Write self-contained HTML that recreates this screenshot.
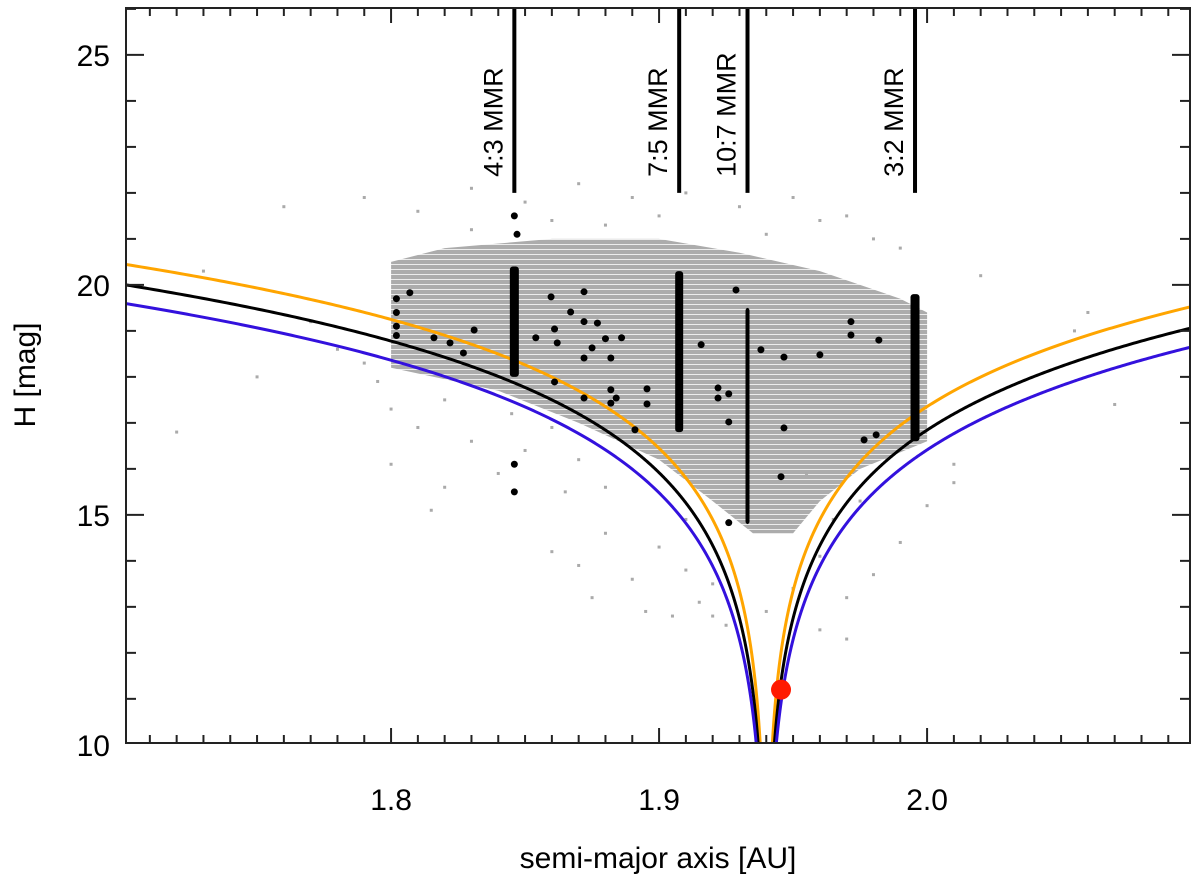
<!DOCTYPE html>
<html><head><meta charset="utf-8"><style>
html,body{margin:0;padding:0;background:#fff;}
svg{display:block;font-family:"Liberation Sans",sans-serif;}
</style></head><body>
<svg id="chart" width="1200" height="883" viewBox="0 0 1200 883" xmlns="http://www.w3.org/2000/svg">
<defs>
<pattern id="stripes" width="8" height="5" patternUnits="userSpaceOnUse">
<rect width="8" height="5" fill="#acacac"/><rect y="4" width="8" height="1" fill="#ececec"/>
</pattern>
</defs>
<g id="plot"></g>
</svg>
<script>
const xTicks=[1.8,1.9,2.0];
const xTickLabels=["1.8","1.9","2.0"];
const yTicks=[10,15,20,25];
const yTickLabels=["10","15","20","25"];
const mmrA=[1.846,1.9075,1.933,1.9955];
const mmrLabels=["4:3 MMR","7:5 MMR","10:7 MMR","3:2 MMR"];
const curveA0=[1.940,1.940,1.940];
const curveK=[5.15,5.26,5.3];
const curveW=[0.00224,0.003,0.0037];
const curveColors=["#ffa500","#000000","#3311dd"];
const curveNames=["orange-v-curve","black-v-curve","blue-v-curve"];
const denseA=[1.80,1.82,1.86,1.90,1.93,1.96,1.99,2.0,2.0,1.975,1.96,1.95,1.935,1.92,1.90,1.87,1.84,1.80];
const denseH=[20.5,20.8,21.0,21.0,20.7,20.3,19.7,19.4,16.6,16.0,15.3,14.6,14.6,15.3,16.2,17.0,17.7,18.2];
const grayA=[1.72,1.75,1.73,1.76,1.79,1.77,1.78,1.81,1.83,1.85,1.87,1.89,1.91,1.93,1.95,1.97,1.83,1.86,1.88,1.90,1.94,1.96,1.98,1.795,1.80,1.81,1.82,1.83,1.845,1.85,1.86,1.87,1.815,1.84,1.865,1.88,1.86,1.87,1.88,1.89,1.90,1.91,1.92,1.875,1.895,1.905,1.915,1.925,1.95,1.96,1.97,1.98,1.99,2.0,2.01,1.955,1.965,1.975,1.985,1.96,1.97,2.06,2.055,2.07,2.01,2.02,1.99,1.80,1.82,1.79,1.92,1.94,1.91];
const grayH=[16.8,18.0,20.3,21.7,21.9,19.2,18.6,21.6,22.1,21.8,22.2,21.9,22.0,21.7,21.9,21.5,21.2,21.4,21.3,21.5,21.1,21.4,21.0,17.9,17.3,16.9,17.5,16.6,17.2,16.4,16.9,16.2,15.1,15.9,15.5,15.6,14.2,13.9,14.6,13.6,14.3,13.8,13.5,13.2,12.9,12.8,13.1,12.6,13.4,14.1,13.2,13.7,14.4,15.2,15.7,15.9,14.9,15.3,16.2,12.5,12.3,19.4,19.0,17.4,16.1,20.2,20.8,16.1,15.6,18.3,12.8,12.9,14.9];
const blackA=[1.8597,1.872,1.867,1.872,1.861,1.854,1.862,1.877,1.875,1.872,1.880,1.886,1.882,1.861,1.872,1.882,1.882,1.891,1.807,1.831,1.816,1.822,1.827,1.884,1.8955,1.8955,1.922,1.922,1.926,1.926,1.9466,1.9455,1.926,1.9765,1.9157,1.9287,1.938,1.9466,1.960,1.9716,1.9716,1.982,1.981,1.846,1.847,1.846,1.846,1.802,1.802,1.802,1.802];
const blackH=[19.74,19.85,19.41,19.20,19.04,18.85,18.74,19.17,18.63,18.41,18.83,18.85,18.41,17.89,17.54,17.72,17.43,16.85,19.83,19.02,18.85,18.74,18.52,17.54,17.74,17.41,17.76,17.54,17.63,17.02,16.89,15.83,14.83,16.63,18.70,19.89,18.59,18.43,18.48,18.91,19.2,18.80,16.74,21.5,21.1,16.1,15.5,19.7,19.4,19.1,18.9];
const colA=[1.846,1.9075,1.933,1.9955];
const colTop=[20.4,20.3,19.5,19.8];
const colBot=[18.0,16.8,14.8,16.6];
const colW=[9,8,4,9];
const redA=[1.9455];
const redH=[11.2];

const L=126,R=1190,T=8,B=743;
const XMIN=1.7011,XMAX=2.0981,YMIN=10.04,YMAX=26.02;
const X=a=>L+(a-XMIN)/(XMAX-XMIN)*(R-L);
const Y=h=>B-(h-YMIN)/(YMAX-YMIN)*(B-T);
const NS="http://www.w3.org/2000/svg";
const g=document.getElementById('plot');
function mk(t,at,parent){const e=document.createElementNS(NS,t);for(const k in at)e.setAttribute(k,at[k]);(parent||g).appendChild(e);return e;}

const clip=mk('clipPath',{id:'pc'});mk('rect',{x:L,y:T,width:R-L,height:B-T},clip);
let pts=denseA.map((a,i)=>X(a).toFixed(1)+','+Y(denseH[i]).toFixed(1)).join(' ');
const dense=mk('polygon',{points:pts,fill:'url(#stripes)'});


const sg=mk('g',{fill:'#aaa'});


grayA.forEach((a,i)=>{mk('rect',{x:X(a)-1.5,y:Y(grayH[i])-1.5,width:3,height:3},sg);});

const cg=mk('g',{'clip-path':'url(#pc)'});
for(let c=0;c<3;c++){
  const branch=(s)=>{let d='';let first=true;
    for(let i=0;i<=600;i++){const t=i/600;let da;
      da = s<0 ? (curveA0[c]-XMIN)*Math.pow(curveW[c]/(curveA0[c]-XMIN)*0.9,t) : (XMAX-curveA0[c])*Math.pow(curveW[c]/(XMAX-curveA0[c])*0.9,t);
      const a=curveA0[c]+s*da;const h=10+curveK[c]*Math.log10(da/curveW[c]);
      d+=(first?'M':'L')+X(a).toFixed(2)+','+Y(h).toFixed(2);first=false;}
    return d;};
  const p=mk('path',{d:branch(-1)+branch(1),fill:'none',stroke:curveColors[c],'stroke-width':3},cg);
  
  
}
const bg=mk('g',{fill:'#000'});


colA.forEach((a,i)=>{mk('rect',{x:X(a)-colW[i]/2,y:Y(colTop[i]),width:colW[i],height:Y(colBot[i])-Y(colTop[i]),rx:3},bg);});
blackA.forEach((a,i)=>{mk('circle',{cx:X(a),cy:Y(blackH[i]),r:3.5},bg);});
const rd=mk('circle',{cx:X(redA[0]),cy:Y(redH[0]),r:10,fill:'#ff1a00'});



mmrA.forEach((a,i)=>{
  const ln=mk('line',{x1:X(a),x2:X(a),y1:T,y2:Y(22.0),stroke:'#000','stroke-width':4});
  
  
  const tx=mk('text',{x:0,y:0,transform:`translate(${X(a)-12},${Y(22.0)-16}) rotate(-90)`,'font-size':27,fill:'#000'});
  tx.textContent=mmrLabels[i];
  
  
});

const ax=mk('g',{stroke:'#222','stroke-width':2,fill:'none'});


mk('rect',{x:L,y:T,width:R-L,height:B-T},ax);
for(let k=171;k<=209;k++){const a=k/100;const x=X(a);const maj=k%10==0;const l=maj?15:8;
  mk('line',{x1:x,x2:x,y1:B,y2:B-l},ax);mk('line',{x1:x,x2:x,y1:T,y2:T+l},ax);}
for(let h=11;h<=26;h++){const y=Y(h);const maj=h%5==0;const l=maj?18:10;
  mk('line',{x1:L,x2:L+l,y1:y,y2:y},ax);mk('line',{x1:R,x2:R-l,y1:y,y2:y},ax);}
xTicks.forEach((v,i)=>{const t=mk('text',{x:X(v),y:810,'text-anchor':'middle','font-size':30,fill:'#000'});t.textContent=xTickLabels[i];
  
  });
yTicks.forEach((v,i)=>{const t=mk('text',{x:110,y:Y(v)+11,'text-anchor':'end','font-size':30,fill:'#000'});t.textContent=yTickLabels[i];
  
  });
const xt=mk('text',{x:658,y:868,'text-anchor':'middle','font-size':30,fill:'#000'});xt.textContent='semi-major axis [AU]';


const yt=mk('text',{x:0,y:0,transform:'translate(35,375) rotate(-90)','text-anchor':'middle','font-size':30,fill:'#000'});yt.textContent='H [mag]';


</script>
</body></html>
